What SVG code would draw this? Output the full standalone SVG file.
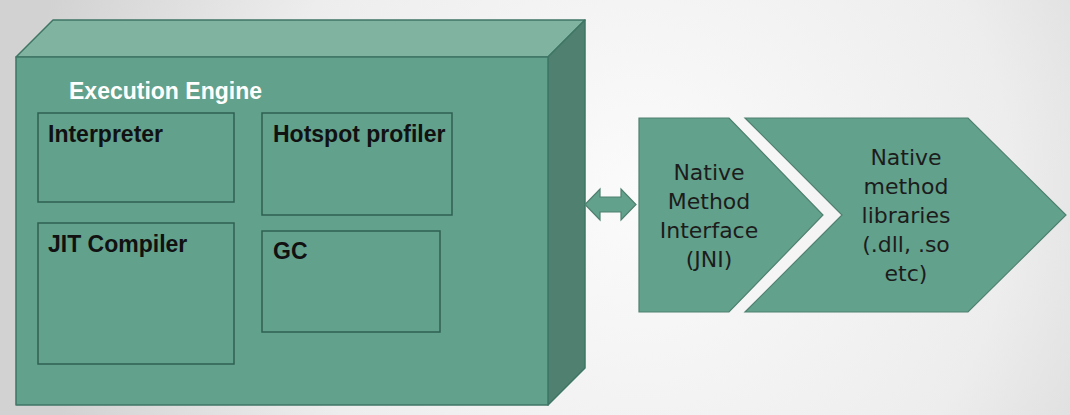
<svg xmlns="http://www.w3.org/2000/svg" width="1070" height="415" viewBox="0 0 1070 415">
  <defs>
    <radialGradient id="bg" cx="640" cy="190" r="620" gradientUnits="userSpaceOnUse">
      <stop offset="0" stop-color="#fbfbfb"/>
      <stop offset="0.6" stop-color="#ededed"/>
      <stop offset="1" stop-color="#d2d2d2"/>
    </radialGradient>
  </defs>
  <style>
    .front { fill: #62a18c; stroke: #3f7565; stroke-width: 1.5; stroke-linejoin: round; }
    .top { fill: #80b3a0; stroke: #3f7565; stroke-width: 1.5; stroke-linejoin: round; }
    .side { fill: #4f8070; stroke: #3f7565; stroke-width: 1.5; stroke-linejoin: round; }
    .box { fill: none; stroke: #2f5f50; stroke-width: 1.5; }
    .chev { fill: #62a18c; stroke: #4f8070; stroke-width: 1.2; }
    .lbl { font-family: "Liberation Sans", Arial, sans-serif; font-weight: bold; font-size: 23px; fill: #111; }
    .title { font-family: "Liberation Sans", Arial, sans-serif; font-weight: bold; font-size: 23px; fill: #ffffff; }
    .ntxt { font-family: "DejaVu Sans", "Liberation Sans", sans-serif; font-size: 22px; fill: #1c1c1c; text-anchor: middle; }
  </style>
  <rect x="0" y="0" width="1070" height="415" fill="url(#bg)"/>

  <g id="execution-engine">
    <polygon class="top" points="16,57 53,20 585,20 548,57"/>
    <polygon class="side" points="548,57 585,20 585,368 548,405"/>
    <rect class="front" x="16" y="57" width="532" height="348"/>
    <text class="title" x="69" y="99">Execution Engine</text>
  </g>

  <g id="interpreter">
    <rect class="box" x="38" y="113" width="196" height="89"/>
    <text class="lbl" x="48" y="142">Interpreter</text>
  </g>

  <g id="hotspot-profiler">
    <rect class="box" x="262" y="113" width="190" height="102"/>
    <text class="lbl" x="273" y="142">Hotspot profiler</text>
  </g>

  <g id="jit-compiler">
    <rect class="box" x="38" y="223" width="196" height="141"/>
    <text class="lbl" x="48" y="252">JIT Compiler</text>
  </g>

  <g id="gc">
    <rect class="box" x="262" y="231" width="178" height="101"/>
    <text class="lbl" x="273" y="259">GC</text>
  </g>

  <g id="connectors">
    <polygon class="chev" points="585,204.5 600,189 600,197 621,197 621,189 636,204.5 621,220 621,212 600,212 600,220"/>
  </g>

  <g id="native-method-interface">
    <polygon class="chev" points="639,118 729,118 823,215 729,312 639,312"/>
    <text class="ntxt" x="709" y="180">Native</text>
    <text class="ntxt" x="709" y="209">Method</text>
    <text class="ntxt" x="709" y="238">Interface</text>
    <text class="ntxt" x="709" y="267">(JNI)</text>
  </g>

  <g id="native-method-libraries">
    <polygon class="chev" points="745,118 968,118 1066,215 968,312 745,312 842,215"/>
    <text class="ntxt" x="906" y="165">Native</text>
    <text class="ntxt" x="906" y="194">method</text>
    <text class="ntxt" x="906" y="223">libraries</text>
    <text class="ntxt" x="906" y="252">(.dll, .so</text>
    <text class="ntxt" x="906" y="281">etc)</text>
  </g>
</svg>
